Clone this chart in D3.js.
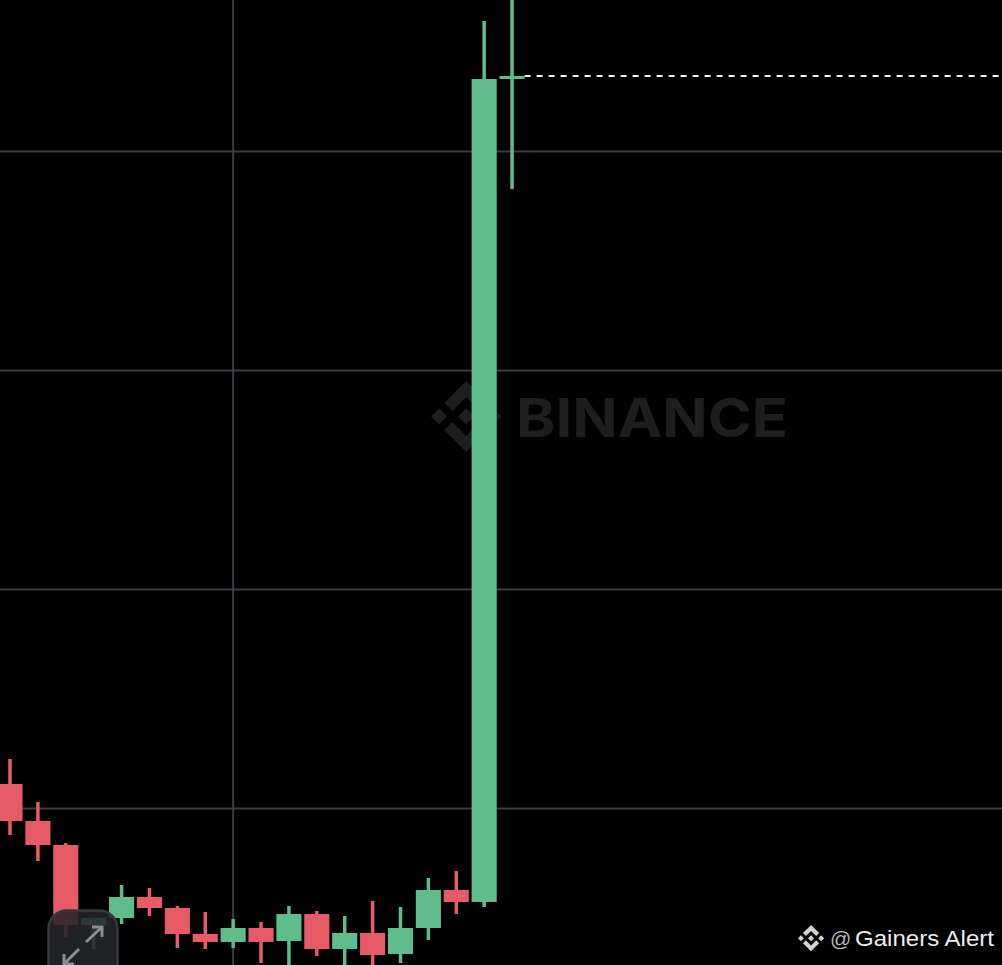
<!DOCTYPE html>
<html>
<head>
<meta charset="utf-8">
<script src="https://cdn.jsdelivr.net/npm/d3@7"></script>
<style>
  html, body { margin: 0; padding: 0; background: #000; overflow: hidden; }
  svg { display: block; }
</style>
</head>
<body>
<div id="chart"></div>
<script>
// the picture has no price labels, so the price unit is arbitrary
const candles = d3.range(19);
const opens =  [2.16, 1.79, 1.55, 0.75, 0.82, 1.03, 0.92, 0.66, 0.58, 0.72, 0.59, 0.86, 0.51, 0.67, 0.46, 0.72, 1.10, 0.98, 9.21];
const closes = [1.79, 1.55, 0.75, 0.82, 1.03, 0.92, 0.66, 0.58, 0.72, 0.58, 0.86, 0.51, 0.67, 0.45, 0.72, 1.10, 0.98, 9.21, 9.24];
const highs =  [2.41, 1.98, 1.57, 0.82, 1.15, 1.12, 0.94, 0.88, 0.81, 0.78, 0.94, 0.89, 0.84, 0.99, 0.93, 1.22, 1.29, 9.79, 10.05];
const lows =   [1.65, 1.39, 0.63, 0.51, 0.76, 0.84, 0.52, 0.51, 0.52, 0.37, 0.32, 0.44, 0.30, 0.30, 0.37, 0.60, 0.86, 0.93, 8.11];
const priceGrid = [1.915, 4.105, 6.295, 8.485];
const timeGrid = [8];
const lastPrice = 9.24;

const width = 1002,
  height = 965;
const green = "#5fbd8c",
  red = "#e75a68",
  gridColor = "#3b3c44";

const logoTop = "M38.171 53.203l24.588-24.587 24.6 24.6 14.307-14.307L62.759 0 23.864 38.896z";
const logoLeft = "M0 63.315l14.307-14.308 14.307 14.307-14.307 14.307z";
const logoBottom = "M38.171 73.427l24.588 24.587 24.6-24.599 14.315 14.3-.007.008-38.908 38.908-38.896-38.895-.02-.02z";
const logoRight = "M97.2 63.32l14.307-14.308 14.307 14.307-14.307 14.307z";
const logoCenter = "M77.271 63.308h.006L62.759 48.79 52.03 59.519l-1.232 1.233-2.543 2.543-.02.02.02.021 14.504 14.505 14.518-14.518.007-.008z";
const logoPaths = [logoTop, logoLeft, logoBottom, logoRight, logoCenter];

const svg = d3
  .select("#chart")
  .append("svg")
  .attr("width", width)
  .attr("height", height)
  .style("background", "#000");

const x = d3
  .scaleBand()
  .domain(candles)
  .range([-3.94, 526])
  .paddingInner(0.1)
  .paddingOuter(0.05);
const y = d3.scaleLinear().domain([0, 10]).range([1000, 0]);
const cx = (i) => x(i) + x.bandwidth() / 2;

// watermark sits behind everything else
function addLogo(g, px, py, scale, fill) {
  g.append("g")
    .attr("transform", `translate(${px},${py}) scale(${scale})`)
    .selectAll("path")
    .data(logoPaths)
    .join("path")
    .attr("d", (d) => d)
    .attr("fill", fill);
}

addLogo(svg, 431, 381, 0.56, "#1e1e1f");
svg
  .append("text")
  .attr("x", 516)
  .attr("y", 437)
  .attr("font-family", "Inter, Lato, sans-serif")
  .attr("font-weight", 700)
  .attr("font-size", 54)
  .attr("textLength", 272)
  .attr("lengthAdjust", "spacingAndGlyphs")
  .attr("fill", "#1e1e1f")
  .text("BINANCE");

// grid
svg
  .selectAll(".hgrid")
  .data(priceGrid)
  .join("line")
  .attr("class", "hgrid")
  .attr("x1", 0)
  .attr("x2", width)
  .attr("y1", (d) => y(d))
  .attr("y2", (d) => y(d))
  .attr("stroke", gridColor)
  .attr("stroke-width", 2);
svg
  .selectAll(".vgrid")
  .data(timeGrid)
  .join("line")
  .attr("class", "vgrid")
  .attr("x1", (d) => cx(d))
  .attr("x2", (d) => cx(d))
  .attr("y1", 0)
  .attr("y2", height)
  .attr("stroke", gridColor)
  .attr("stroke-width", 2);

// last price line
svg
  .append("line")
  .attr("x1", cx(18) + x.bandwidth() / 2)
  .attr("x2", width)
  .attr("y1", y(lastPrice))
  .attr("y2", y(lastPrice))
  .attr("stroke", "#eef3ef")
  .attr("stroke-width", 2)
  .attr("stroke-dasharray", "6 6");

// candles
const color = (i) => (closes[i] >= opens[i] ? green : red);
svg
  .selectAll(".wick")
  .data(candles)
  .join("line")
  .attr("class", "wick")
  .attr("x1", (i) => cx(i))
  .attr("x2", (i) => cx(i))
  .attr("y1", (i) => y(highs[i]))
  .attr("y2", (i) => y(lows[i]))
  .attr("stroke", (i) => color(i))
  .attr("stroke-width", 3.5);
svg
  .selectAll(".body")
  .data(candles)
  .join("rect")
  .attr("class", "body")
  .attr("x", (i) => x(i))
  .attr("width", x.bandwidth())
  .attr("y", (i) => y(Math.max(opens[i], closes[i])))
  .attr("height", (i) => Math.abs(y(opens[i]) - y(closes[i])))
  .attr("fill", (i) => color(i));

// fullscreen button over the candles
const btn = svg.append("g");
btn
  .append("rect")
  .attr("x", 48.5)
  .attr("y", 910.5)
  .attr("width", 69)
  .attr("height", 90)
  .attr("rx", 18)
  .attr("fill", "#24262a")
  .attr("fill-opacity", 0.88)
  .attr("stroke", "#36383d")
  .attr("stroke-width", 2.5);
btn
  .selectAll("path")
  .data([
    "M86 942L102 927M92 927H102V937",
    "M79 949L64 964M64 954V964H74",
  ])
  .join("path")
  .attr("d", (d) => d)
  .attr("fill", "none")
  .attr("stroke", "#8b8d90")
  .attr("stroke-width", 3);

// credit
addLogo(svg, 798, 925, 0.208, "#d2d2d2");
svg
  .append("text")
  .attr("x", 830)
  .attr("y", 946)
  .attr("font-family", "Liberation Sans, Arial, sans-serif")
  .attr("font-size", 21)
  .attr("fill", "#b8b8b8")
  .text("@");
svg
  .append("text")
  .attr("x", 855)
  .attr("y", 946)
  .attr("font-family", "Liberation Sans, Arial, sans-serif")
  .attr("font-size", 22.5)
  .attr("textLength", 139)
  .attr("lengthAdjust", "spacingAndGlyphs")
  .attr("fill", "#ececec")
  .text("Gainers Alert");
</script>
</body>
</html>
